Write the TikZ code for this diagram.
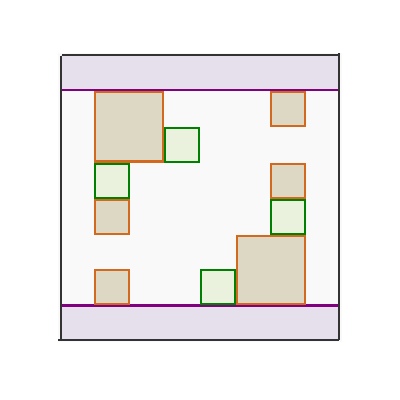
\documentclass[tikz,border=0pt]{standalone}
\definecolor{bgc}{HTML}{F9F9F9}
\definecolor{framec}{HTML}{333333}
\definecolor{bandfill}{HTML}{E6DFEC}
\definecolor{bandline}{HTML}{800080}
\definecolor{orgline}{HTML}{D2691E}
\definecolor{orgfill}{HTML}{DDD8C4}
\definecolor{grnline}{HTML}{008000}
\definecolor{grnfill}{HTML}{EAF2DE}
\tikzset{
  obox/.style={draw=orgline, fill=orgfill, line width=2.2pt, inner sep=0pt, minimum width=34pt, minimum height=34pt},
  gbox/.style={draw=grnline, fill=grnfill, line width=2.2pt, inner sep=0pt, minimum width=34pt, minimum height=34pt},
  frameline/.style={draw=framec, line width=2.7pt},
  bandsep/.style={draw=bandline, line width=2.2pt}
}
\begin{document}
\begin{tikzpicture}[x=1pt,y=-1pt]
\useasboundingbox (0,0) rectangle (400,400);
\fill[white] (0,0) rectangle (400,400);
\fill[bgc] (58,53) rectangle (342,342);
% bands
\fill[bandfill] (61,55) rectangle (339,90);
\fill[bandfill] (61,305) rectangle (339,340);
\coordinate (tl) at (61,90);
\coordinate (tr) at (339,90);
\coordinate (bl) at (61,305.5);
\coordinate (br) at (339,305.5);
\draw[bandsep] (tl) -- (tr);
\draw[bandsep] (bl) -- (br);
% frame
\coordinate (f1) at (62,55);
\coordinate (f2) at (339,55);
\coordinate (f3) at (339,53);
\coordinate (f4) at (339,340);
\coordinate (f5) at (58,340);
\coordinate (f6) at (61,56);
\coordinate (f7) at (61,340);
\draw[frameline] (f1) -- (f2);
\draw[frameline] (f3) -- (f4);
\draw[frameline] (f5) -- (f4);
\draw[frameline] (f6) -- (f7);
% boxes
\node[obox, minimum width=68pt, minimum height=69.5pt] (A) at (129,126.8) {};
\node[gbox] (B) at (182,145) {};
\node[gbox] (C) at (112,181) {};
\node[obox] (D) at (112,217) {};
\node[obox] (E) at (112,287) {};
\node[obox] (F) at (288,109) {};
\node[obox] (G) at (288,181) {};
\node[gbox] (H) at (288,217) {};
\node[obox, minimum width=68pt, minimum height=68pt] (I) at (271,270) {};
\node[gbox] (J) at (218,287) {};
\end{tikzpicture}
\end{document}
